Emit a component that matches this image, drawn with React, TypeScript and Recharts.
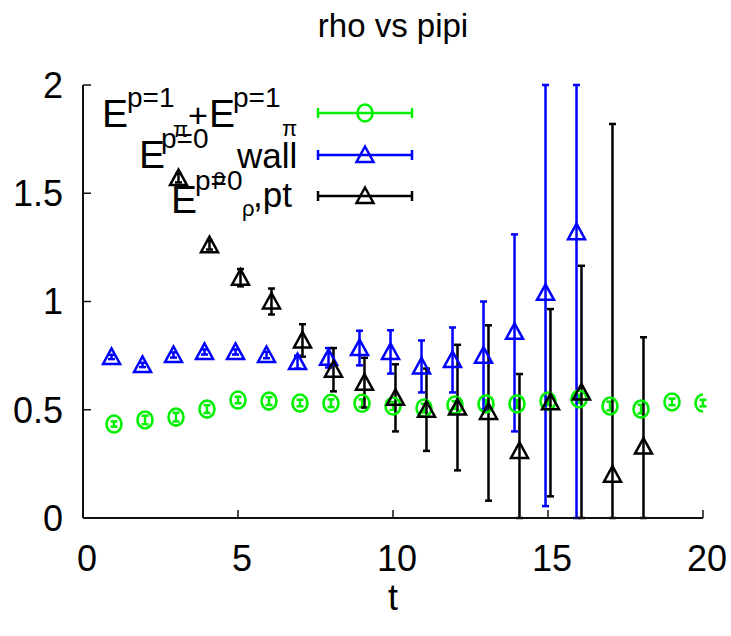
import React from 'react';
import { ScatterChart, Scatter, XAxis, YAxis, ErrorBar, Legend } from 'recharts';

const W = 731;
const H = 636;
const FONT = '"Liberation Sans", Arial, Helvetica, sans-serif';

// ---- data ----
const greenT = [1, 2, 3, 4, 5, 6, 7, 8, 9, 10, 11, 12, 13, 14, 15, 16, 17, 18, 19, 20];
const greenY = [0.434, 0.453, 0.466, 0.503, 0.545, 0.54, 0.531, 0.53, 0.53, 0.517, 0.508, 0.522, 0.527, 0.527, 0.54, 0.55, 0.517, 0.503, 0.536, 0.531];
const greenErrLow = [0.012, 0.02, 0.02, 0.018, 0.015, 0.018, 0.015, 0.018, 0.018, 0.018, 0.02, 0.018, 0.018, 0.018, 0.018, 0.018, 0.02, 0.02, 0.015, 0.015];
const greenErrHigh = [0.012, 0.02, 0.02, 0.018, 0.015, 0.018, 0.015, 0.018, 0.018, 0.018, 0.02, 0.018, 0.018, 0.018, 0.018, 0.018, 0.02, 0.02, 0.015, 0.015];

const blueT = [0.92, 1.92, 2.92, 3.92, 4.92, 5.92, 6.92, 7.92, 8.92, 9.92, 10.92, 11.92, 12.92, 13.92, 14.92, 15.92];
const blueY = [0.744, 0.707, 0.753, 0.767, 0.767, 0.753, 0.72, 0.74, 0.785, 0.767, 0.7, 0.73, 0.75, 0.86, 1.04, 1.32];
// visible extent of the error bars (upper ends of the last two are cut at the top of the frame)
const blueErrLow = [0.01, 0.01, 0.012, 0.012, 0.012, 0.015, 0.03, 0.045, 0.08, 0.1, 0.12, 0.15, 0.25, 0.46, 0.985, 1.32];
const blueErrHigh = [0.01, 0.01, 0.012, 0.012, 0.012, 0.015, 0.03, 0.045, 0.08, 0.1, 0.12, 0.15, 0.25, 0.45, 0.96, 0.68];

const blackT = [3.08, 4.08, 5.08, 6.08, 7.08, 8.08, 9.08, 10.08, 11.08, 12.08, 13.08, 14.08, 15.08, 16.08, 17.08, 18.08];
const blackY = [1.57, 1.26, 1.11, 1.0, 0.82, 0.685, 0.625, 0.555, 0.5, 0.51, 0.49, 0.31, 0.535, 0.58, 0.2, 0.33];
// visible extent (lower ends of several bars are cut at the bottom of the frame)
const blackErrLow = [0.02, 0.02, 0.04, 0.06, 0.075, 0.1, 0.115, 0.155, 0.19, 0.29, 0.41, 0.31, 0.435, 0.58, 0.2, 0.33];
const blackErrHigh = [0.02, 0.02, 0.04, 0.06, 0.075, 0.1, 0.115, 0.155, 0.19, 0.29, 0.4, 0.355, 0.43, 0.585, 1.62, 0.505];

const xTicks = [0, 5, 10, 15, 20];
const yTicks = [0, 0.5, 1, 1.5, 2];
const title = 'rho vs pipi';
const xLabel = 't';

const GREEN = '#00f000';
const BLUE = '#0000ff';
const BLACK = '#000000';

const zip = (xs: number[], ys: number[], lo: number[], hi: number[]) =>
  xs.map((x, i) => ({ x, y: ys[i], e: [lo[i], hi[i]] }));

const greenData = zip(greenT, greenY, greenErrLow, greenErrHigh);
const blueData = zip(blueT, blueY, blueErrLow, blueErrHigh);
const blackData = zip(blackT, blackY, blackErrLow, blackErrHigh);

const circleShape = (color: string) => (p: any) => (
  <ellipse cx={p.cx} cy={p.cy} rx={7.5} ry={8.5} fill="none" stroke={color} strokeWidth={2.6} />
);
const triShape = (color: string) => (p: any) => (
  <polygon
    points={`${p.cx},${p.cy - 8.5} ${p.cx - 8.5},${p.cy + 7} ${p.cx + 8.5},${p.cy + 7}`}
    fill="none"
    stroke={color}
    strokeWidth={2.5}
  />
);

const LegendRow = ({ y, color, tri }: { y: number; color: string; tri: boolean }) => (
  <g>
    <line x1={318} y1={y} x2={412} y2={y} stroke={color} strokeWidth={2.5} />
    <line x1={318} y1={y - 5} x2={318} y2={y + 5} stroke={color} strokeWidth={2.5} />
    <line x1={412} y1={y - 5} x2={412} y2={y + 5} stroke={color} strokeWidth={2.5} />
    {tri ? (
      <polygon points={`365,${y - 8.5} 356.5,${y + 7} 373.5,${y + 7}`} fill="none" stroke={color} strokeWidth={2.5} />
    ) : (
      <ellipse cx={365} cy={y} rx={7.5} ry={8.5} fill="none" stroke={color} strokeWidth={2.6} />
    )}
  </g>
);

const LegendContent = () => (
  <svg width={W} height={H} style={{ position: 'absolute', left: 0, top: 0, overflow: 'visible' }}>
    <g fontFamily={FONT} fill="#000">
      {/* row 1 */}
      <text x={102} y={127} fontSize={39}>E</text>
      <text x={127} y={107} fontSize={28}>p=1</text>
      <text x={173} y={137} fontSize={22}>π</text>
      <text x={188} y={127} fontSize={34}>+</text>
      <text x={209} y={127} fontSize={39}>E</text>
      <text x={233} y={107} fontSize={28}>p=1</text>
      <text x={282} y={136} fontSize={22}>π</text>
      {/* row 2 */}
      <text x={139} y={168} fontSize={39}>E</text>
      <text x={161} y={148} fontSize={28}>p=0</text>
      <text x={213} y={184} fontSize={22}>ρ</text>
      <text x={237} y={168} fontSize={35}>wall</text>
      {/* row 3 */}
      <text x={171} y={213} fontSize={39}>E</text>
      <text x={195} y={190} fontSize={28}>p=0</text>
      <text x={242} y={216} fontSize={22}>ρ</text>
      <text x={253} y={207} fontSize={35}>,pt</text>
    </g>
    <LegendRow y={113} color={GREEN} tri={false} />
    <LegendRow y={155} color={BLUE} tri />
    <LegendRow y={196} color={BLACK} tri />
  </svg>
);

const tickStyle = { fill: '#000', fontSize: 36, fontFamily: FONT };

export default function App() {
  return (
    <div style={{ position: 'absolute', left: 0, top: 0, width: W, height: H, background: '#fff' }}>
      <ScatterChart width={W} height={H} margin={{ top: 85, right: 28, bottom: 0, left: 0 }}>
        <XAxis
          xAxisId={0}
          type="number"
          dataKey="x"
          domain={[0, 20]}
          ticks={xTicks}
          allowDataOverflow
          height={118}
          tickSize={-8}
          tickMargin={35}
          tick={{ ...tickStyle, dx: 4 }}
          axisLine={{ stroke: '#111', strokeWidth: 2 }}
          tickLine={{ stroke: '#111', strokeWidth: 1.5 }}
          label={{ value: xLabel, position: 'insideBottom', offset: 26, fill: '#000', fontSize: 36, fontFamily: FONT }}
        />
        <XAxis
          xAxisId="top"
          orientation="top"
          type="number"
          dataKey="x"
          domain={[0, 20]}
          ticks={xTicks}
          allowDataOverflow
          height={0}
          tickSize={-8}
          tick={false}
          axisLine={{ stroke: '#111', strokeWidth: 2 }}
          tickLine={{ stroke: '#111', strokeWidth: 1.5 }}
        />
        <YAxis
          yAxisId={0}
          type="number"
          dataKey="y"
          domain={[0, 2]}
          ticks={yTicks}
          allowDataOverflow
          width={83}
          tickSize={-8}
          tickMargin={28}
          tick={tickStyle}
          axisLine={{ stroke: '#111', strokeWidth: 2 }}
          tickLine={{ stroke: '#111', strokeWidth: 1.5 }}
        />
        <YAxis
          yAxisId="right"
          orientation="right"
          type="number"
          dataKey="y"
          domain={[0, 2]}
          ticks={yTicks}
          allowDataOverflow
          width={0}
          tickSize={-8}
          tick={false}
          axisLine={{ stroke: '#111', strokeWidth: 2 }}
          tickLine={{ stroke: '#111', strokeWidth: 1.5 }}
        />
        <Legend
          content={LegendContent}
          layout="horizontal"
          verticalAlign="middle"
          align="center"
          wrapperStyle={{ left: 0, top: 0, width: W, height: H, margin: 0, pointerEvents: 'none' }}
        />
        <Scatter name="pipi" data={greenData} xAxisId={0} yAxisId={0} shape={circleShape(GREEN)} isAnimationActive={false}>
          <ErrorBar dataKey="e" direction="y" width={3.5} stroke={GREEN} strokeWidth={2.5} isAnimationActive={false} />
        </Scatter>
        <Scatter name="wall" data={blueData} xAxisId={0} yAxisId={0} shape={triShape(BLUE)} isAnimationActive={false}>
          <ErrorBar dataKey="e" direction="y" width={3.5} stroke={BLUE} strokeWidth={2.5} isAnimationActive={false} />
        </Scatter>
        <Scatter name="pt" data={blackData} xAxisId={0} yAxisId={0} shape={triShape(BLACK)} isAnimationActive={false}>
          <ErrorBar dataKey="e" direction="y" width={3.5} stroke={BLACK} strokeWidth={2.5} isAnimationActive={false} />
        </Scatter>
      </ScatterChart>
      <svg width={W} height={60} style={{ position: 'absolute', left: 0, top: 0, pointerEvents: 'none' }}>
        <text x={393} y={37} textAnchor="middle" fontSize={33} fontFamily={FONT} fill="#000">
          {title}
        </text>
      </svg>
    </div>
  );
}
